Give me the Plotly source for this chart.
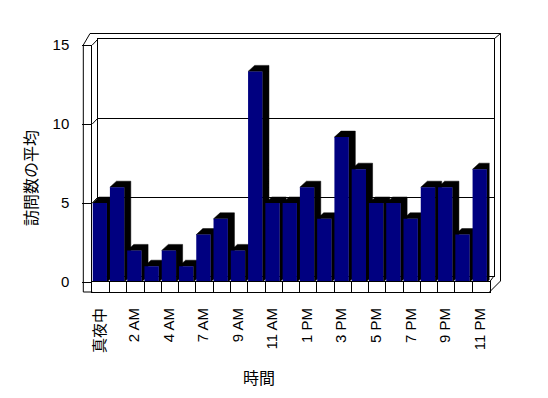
import plotly.graph_objects as go

# ---- data ----
categories = ["真夜中", "1 AM", "2 AM", "3 AM", "4 AM", "5 AM", "7 AM", "8 AM",
              "9 AM", "10 AM", "11 AM", "正午", "1 PM", "2 PM", "3 PM", "4 PM",
              "5 PM", "6 PM", "7 PM", "8 PM", "9 PM", "10 PM", "11 PM"]
visits = [5, 6, 2, 1, 2, 1, 3, 4, 2, 13.33, 5, 5, 6, 4, 9.17, 7.14,
          5, 5, 4, 6, 6, 3, 7.14]
y_ticks = [0, 5, 10, 15]
y_max = 15
label_step = 2
y_title = "訪問数の平均"
x_title = "時間"

# ---- geometry helpers (pixel -> paper) ----
W, H = 548, 398
def PX(p):
    return p / W
def PY(p):
    return 1 - p / H

n = len(categories)
idx = list(range(n))
BAR_W = 0.83
BAR_OFF = -0.48
DEPTH_X = 0.38
DEPTH_Y = 0.38

FRONT_L, FRONT_R = 92.3, 489.5
FRONT_B, FRONT_T = 282, 45
BACK_L, BACK_R = 98, 494
BACK_B, BACK_T = 276, 39
OUTER_L = 83.3
FLOOR_B = 292

FONT = "Liberation Sans, Arial, Noto Sans CJK JP, sans-serif"
JFONT = "Noto Sans CJK JP, sans-serif"

# depth faces (top + side) of each bar, built from the data values
sx, sy = [], []
for i, v in zip(idx, visits):
    xl = i + BAR_OFF
    xr = xl + BAR_W
    sx += [xl, xl + DEPTH_X, xr + DEPTH_X, xr + DEPTH_X, xr, xr, xl, None]
    sy += [v, v + DEPTH_Y, v + DEPTH_Y, DEPTH_Y, 0, v, v, None]

fig = go.Figure()
# back wall subplot placeholder
fig.add_trace(go.Scatter(x=[None], y=[None], xaxis="x", yaxis="y",
                         showlegend=False, hoverinfo="skip"))
# 3D depth faces of bars
fig.add_trace(go.Scatter(x=sx, y=sy, mode="lines", fill="toself",
                         fillcolor="black", line=dict(color="black", width=0.5),
                         xaxis="x2", yaxis="y2", showlegend=False,
                         hoverinfo="skip"))
# front face of bars (overlay subplot, drawn above the depth faces)
fig.add_trace(go.Bar(x=idx, y=visits, offset=BAR_OFF, width=BAR_W,
                     marker=dict(color="#000080", line=dict(width=0)),
                     xaxis="x4", yaxis="y4", showlegend=False))
# floor subplot placeholder
fig.add_trace(go.Scatter(x=[None], y=[None], xaxis="x3", yaxis="y3",
                         showlegend=False, hoverinfo="skip"))

line_kw = dict(type="line", xref="paper", yref="paper",
               line=dict(color="black", width=1))
shapes = []
def seg(x0, y0, x1, y1):
    shapes.append(dict(x0=PX(x0), y0=PY(y0), x1=PX(x1), y1=PY(y1), **line_kw))

def front_y(v):
    return FRONT_B - (FRONT_B - FRONT_T) * v / y_max
def back_y(v):
    return BACK_B - (BACK_B - BACK_T) * v / y_max

# left wall
seg(OUTER_L, front_y(y_max), OUTER_L, FLOOR_B)
seg(OUTER_L, FLOOR_B, FRONT_L, FLOOR_B)
seg(OUTER_L, front_y(y_max), 90, 33.5)
for v in y_ticks[1:]:
    seg(FRONT_L, front_y(v), BACK_L, back_y(v))
# back wall thickness
seg(90, 33.5, 500.5, 33.5)
seg(BACK_R, BACK_T, 500.5, 33.5)
seg(500.5, 33.5, 500.5, 281)
seg(500.5, 281, FRONT_R, FLOOR_B)
seg(BACK_R, BACK_B, FRONT_R, FRONT_B)

label_pos = [i + BAR_OFF + BAR_W / 2 for i in idx[::label_step]]
x_range = [-0.5, n - 0.5]

fig.update_layout(
    width=W, height=H,
    margin=dict(l=0, r=0, t=0, b=0, pad=0, autoexpand=False),
    paper_bgcolor="white", plot_bgcolor="rgba(0,0,0,0)",
    barmode="overlay", showlegend=False,
    font=dict(family=FONT, color="black", size=15),
    shapes=shapes,
    xaxis=dict(domain=[PX(BACK_L), PX(BACK_R)], range=[0, 1], anchor="y",
               showgrid=False, zeroline=False, showticklabels=False, ticks="",
               showline=True, mirror=True, linecolor="black", linewidth=1,
               fixedrange=True),
    yaxis=dict(domain=[PY(BACK_B), PY(BACK_T)], range=[0, y_max], anchor="x",
               tickmode="array", tickvals=y_ticks, showgrid=True,
               gridcolor="black", gridwidth=1, zeroline=False,
               showticklabels=False, ticks="", showline=True, mirror=True,
               linecolor="black", linewidth=1, fixedrange=True),
    xaxis2=dict(domain=[PX(FRONT_L), PX(FRONT_R)], range=x_range,
                anchor="y2", showgrid=False, zeroline=False,
                showticklabels=False, ticks="", showline=False, fixedrange=True),
    yaxis2=dict(domain=[PY(FRONT_B), PY(FRONT_T)], range=[0, y_max],
                anchor="x2", tickmode="array", tickvals=y_ticks,
                ticks="outside", ticklen=9, tickcolor="black", tickwidth=1,
                showline=True, linecolor="black", linewidth=1,
                showgrid=False, zeroline=False, ticklabelstandoff=10,
                tickfont=dict(family=FONT, size=15, color="black"),
                fixedrange=True),
    xaxis4=dict(overlaying="x2", range=x_range, anchor="y4", visible=False,
                fixedrange=True),
    yaxis4=dict(overlaying="y2", range=[0, y_max], anchor="x4", visible=False,
                fixedrange=True),
    xaxis3=dict(domain=[PX(FRONT_L), PX(FRONT_R)], range=x_range,
                anchor="y3", tickmode="array", tickvals=label_pos,
                ticktext=categories[::label_step], tickangle=-90, ticks="",
                showgrid=False, zeroline=False, showline=True, mirror=True,
                linecolor="black", linewidth=1, ticklabelstandoff=9,
                tickfont=dict(family=FONT, size=15, color="black"),
                minor=dict(tickmode="linear", tick0=-0.5, dtick=1,
                           showgrid=True, gridcolor="black", gridwidth=1,
                           ticks=""),
                fixedrange=True),
    yaxis3=dict(domain=[PY(FLOOR_B), PY(FRONT_B)], range=[0, 1], anchor="x3",
                showgrid=False, zeroline=False, showticklabels=False,
                ticks="", showline=True, mirror=True, linecolor="black",
                linewidth=1, fixedrange=True),
    annotations=[
        dict(text=y_title, xref="paper", yref="paper", x=PX(30), y=PY(178),
             xanchor="center", yanchor="middle",
             showarrow=False, textangle=-90,
             font=dict(family=JFONT, size=16, color="black")),
        dict(text=x_title, xref="paper", yref="paper", x=PX(259), y=PY(377),
             xanchor="center", yanchor="middle",
             showarrow=False, font=dict(family=JFONT, size=16, color="black")),
    ],
)

fig.write_html("out.html", config={"displayModeBar": False},
               post_script="document.body.style.margin='0';")
